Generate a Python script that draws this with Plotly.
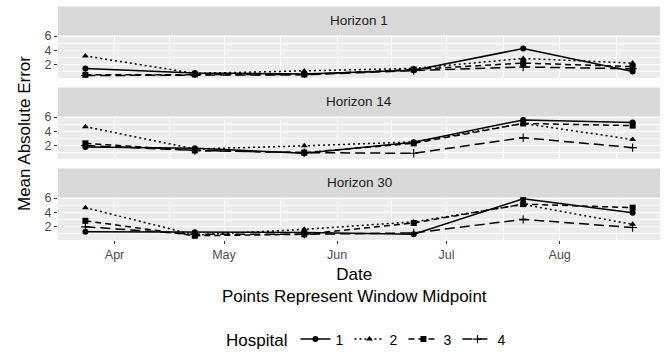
import plotly.graph_objects as go
from plotly.subplots import make_subplots

# ---------------- data ----------------
dates = ["2020-03-24", "2020-04-23", "2020-05-23", "2020-06-22", "2020-07-22", "2020-08-21"]
horizons = ["Horizon 1", "Horizon 14", "Horizon 30"]
hospitals = ["1", "2", "3", "4"]

h1_vals = {
    "1": [1.45, 0.80, 0.65, 1.20, 4.25, 1.00],
    "2": [3.20, 0.75, 1.10, 1.45, 2.85, 2.20],
    "3": [0.55, 0.60, 0.60, 1.30, 2.20, 1.70],
    "4": [0.45, 0.55, 0.55, 1.15, 1.65, 1.40],
}
h14_vals = {
    "1": [1.80, 1.60, 0.90, 2.45, 5.60, 5.25],
    "2": [4.65, 1.50, 1.95, 2.50, 5.10, 2.85],
    "3": [2.30, 1.30, 1.00, 2.30, 5.10, 4.80],
    "4": [2.00, 1.30, 1.00, 0.90, 3.10, 1.70],
}
h30_vals = {
    "1": [1.27, 1.20, 1.15, 0.90, 5.90, 3.95],
    "2": [4.65, 0.80, 1.60, 2.65, 5.10, 2.30],
    "3": [2.80, 0.70, 0.90, 2.50, 5.15, 4.65],
    "4": [1.95, 0.90, 0.90, 1.10, 3.00, 1.85],
}
panel_vals = [h1_vals, h14_vals, h30_vals]

y_ticks = [2, 4, 6]
y_minor = [1, 3, 5]
x_ticks = ["2020-04-01", "2020-05-01", "2020-06-01", "2020-07-01", "2020-08-01"]
x_ticklabels = ["Apr", "May", "Jun", "Jul", "Aug"]
x_minor = ["2020-04-16", "2020-05-16 12:00", "2020-06-16", "2020-07-16 12:00", "2020-08-16 12:00"]

# ---------------- styles ----------------
W, H = 664, 355
FONT = "Liberation Sans, Arial, sans-serif"
styles = {
    "1": dict(symbol="circle", dash="solid"),
    "2": dict(symbol="triangle-up", dash="2px,3px"),
    "3": dict(symbol="square", dash="6px,4px"),
    "4": dict(symbol="cross-thin", dash="10px,5px"),
}

def py(px):
    return 1 - px / H

def pxx(px):
    return px / W

plot_rows = [(35, 78), (116, 159), (197, 240)]
strip_rows = [(6.5, 35), (87.5, 116), (168.5, 197)]
x_dom = [pxx(58), pxx(660)]

fig = make_subplots(rows=3, cols=1, shared_xaxes=True)

for r, vals in enumerate(panel_vals):
    for h in hospitals:
        st = styles[h]
        fig.add_trace(
            go.Scatter(
                x=dates, y=vals[h], mode="lines+markers", name=h,
                legendgroup=h, showlegend=(r == 0),
                line=dict(color="black", width=1.5, dash=st["dash"]),
                marker=dict(symbol=st["symbol"], size=6, color="black",
                            line=dict(color="black", width=1.1 if h == "4" else 0)),
            ),
            row=r + 1, col=1,
        )

shapes = []
annotations = []
for r in range(3):
    t, b = plot_rows[r]
    st_t, st_b = strip_rows[r]
    yname = "yaxis" if r == 0 else f"yaxis{r+1}"
    xname = "xaxis" if r == 0 else f"xaxis{r+1}"
    fig.layout[yname].update(
        domain=[py(b), py(t)], range=[0.1, 6.15],
        tickvals=y_ticks, ticktext=[str(v) for v in y_ticks],
        showgrid=True, gridcolor="white", gridwidth=1.1,
        minor=dict(tickvals=y_minor, showgrid=True, gridcolor="white", gridwidth=0.5, ticks=""),
        ticks="outside", ticklen=3, tickwidth=1, tickcolor="#333333",
        tickfont=dict(family=FONT, size=12.5, color="#4D4D4D"),
        zeroline=False, showline=False, fixedrange=True, automargin=False,
    )
    fig.layout[xname].update(
        domain=x_dom, type="date", range=["2020-03-16 12:00", "2020-08-28 12:00"],
        tickvals=x_ticks, ticktext=x_ticklabels,
        showgrid=True, gridcolor="white", gridwidth=1.1,
        minor=dict(tickvals=x_minor, showgrid=True, gridcolor="white", gridwidth=0.5, ticks=""),
        ticks="outside" if r == 2 else "", ticklen=3, tickwidth=1, tickcolor="#333333",
        showticklabels=(r == 2),
        tickfont=dict(family=FONT, size=12.5, color="#4D4D4D"),
        zeroline=False, showline=False, automargin=False, fixedrange=True,
    )
    # panel background
    shapes.append(dict(type="rect", xref="paper", yref="paper",
                       x0=x_dom[0], x1=x_dom[1], y0=py(b), y1=py(t),
                       fillcolor="#EBEBEB", line=dict(width=0), layer="below"))
    # strip
    shapes.append(dict(type="rect", xref="paper", yref="paper",
                       x0=x_dom[0], x1=x_dom[1], y0=py(st_b), y1=py(st_t),
                       fillcolor="#D9D9D9", line=dict(width=0), layer="below"))
    annotations.append(dict(text=horizons[r], xref="paper", yref="paper",
                            x=(x_dom[0] + x_dom[1]) / 2, y=py((st_t + st_b) / 2),
                            xanchor="center", yanchor="middle", showarrow=False,
                            font=dict(family=FONT, size=13.5, color="#1A1A1A")))

annotations.append(dict(text="Mean Absolute Error", xref="paper", yref="paper",
                        x=pxx(25), y=py(134), textangle=-90,
                        xanchor="center", yanchor="middle", showarrow=False,
                        font=dict(family=FONT, size=17, color="black")))
annotations.append(dict(text="Date<br>Points Represent Window Midpoint", xref="paper", yref="paper",
                        x=pxx(354), y=py(285), align="center",
                        xanchor="center", yanchor="middle", showarrow=False,
                        font=dict(family=FONT, size=17, color="black")))

fig.update_layout(
    width=W, height=H,
    margin=dict(l=0, r=0, t=0, b=0, autoexpand=False),
    paper_bgcolor="white", plot_bgcolor="rgba(0,0,0,0)",
    shapes=shapes, annotations=annotations,
    font=dict(family=FONT, color="black"),
    hovermode=False,
    legend=dict(
        orientation="h", x=pxx(368), xanchor="center", y=py(340), yanchor="middle",
        title=dict(text="Hospital", font=dict(family=FONT, size=17, color="black"), side="left"),
        font=dict(family=FONT, size=14, color="black"),
        itemwidth=30, entrywidth=9, entrywidthmode="pixels",
        bgcolor="rgba(0,0,0,0)",
    ),
)

fig.write_html(
    "out.html",
    config={"displayModeBar": False, "staticPlot": False},
    post_script="document.body.style.margin='0';document.body.style.overflow='hidden';",
)
